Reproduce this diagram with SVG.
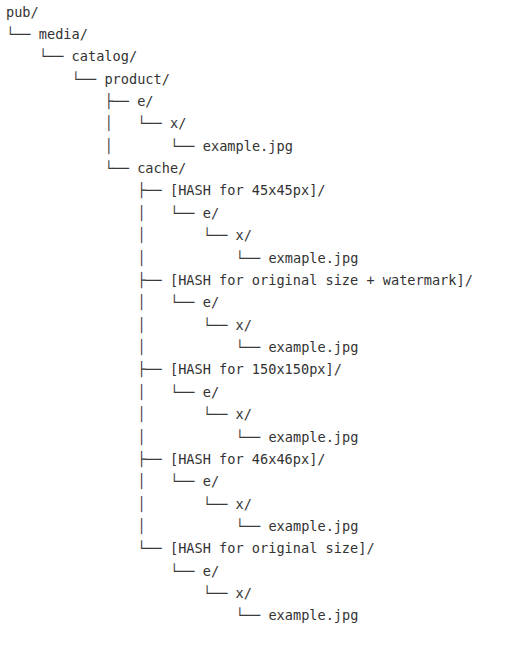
<svg xmlns="http://www.w3.org/2000/svg" width="523" height="666" viewBox="0 0 523 666">
<style>
text{font-family:"DejaVu Sans Mono","Liberation Mono",monospace;font-size:13.6px;fill:#333333}
.c{fill:#3a3a3a}
</style>
<rect width="523" height="666" fill="#ffffff"/>
<g id="connectors">
<text class="c" x="6" y="38.87">└──</text>
<text class="c" x="38.8" y="61.24">└──</text>
<text class="c" x="71.6" y="83.61">└──</text>
<text class="c" x="104.4" y="105.98">├──</text>
<text class="c" x="104.4" y="128.35">│</text><text class="c" x="137.2" y="128.35">└──</text>
<text class="c" x="104.4" y="150.72">│</text><text class="c" x="170" y="150.72">└──</text>
<text class="c" x="104.4" y="173.09">└──</text>
<text class="c" x="137.2" y="195.46">├──</text>
<text class="c" x="137.2" y="217.83">│</text><text class="c" x="170" y="217.83">└──</text>
<text class="c" x="137.2" y="240.2">│</text><text class="c" x="202.8" y="240.2">└──</text>
<text class="c" x="137.2" y="262.57">│</text><text class="c" x="235.6" y="262.57">└──</text>
<text class="c" x="137.2" y="284.94">├──</text>
<text class="c" x="137.2" y="307.31">│</text><text class="c" x="170" y="307.31">└──</text>
<text class="c" x="137.2" y="329.68">│</text><text class="c" x="202.8" y="329.68">└──</text>
<text class="c" x="137.2" y="352.05">│</text><text class="c" x="235.6" y="352.05">└──</text>
<text class="c" x="137.2" y="374.42">├──</text>
<text class="c" x="137.2" y="396.79">│</text><text class="c" x="170" y="396.79">└──</text>
<text class="c" x="137.2" y="419.16">│</text><text class="c" x="202.8" y="419.16">└──</text>
<text class="c" x="137.2" y="441.53">│</text><text class="c" x="235.6" y="441.53">└──</text>
<text class="c" x="137.2" y="463.9">├──</text>
<text class="c" x="137.2" y="486.27">│</text><text class="c" x="170" y="486.27">└──</text>
<text class="c" x="137.2" y="508.64">│</text><text class="c" x="202.8" y="508.64">└──</text>
<text class="c" x="137.2" y="531.01">│</text><text class="c" x="235.6" y="531.01">└──</text>
<text class="c" x="137.2" y="553.38">└──</text>
<text class="c" x="170" y="575.75">└──</text>
<text class="c" x="202.8" y="598.12">└──</text>
<text class="c" x="235.6" y="620.49">└──</text>
</g>
<g id="n-pub"><text x="6" y="16.5">pub/</text></g>
<g id="n-media"><text x="38.8" y="38.87">media/</text></g>
<g id="n-catalog"><text x="71.6" y="61.24">catalog/</text></g>
<g id="n-product"><text x="104.4" y="83.61">product/</text></g>
<g id="n-e"><text x="137.2" y="105.98">e/</text></g>
<g id="n-e-x"><text x="170" y="128.35">x/</text></g>
<g id="n-e-x-file"><text x="202.8" y="150.72">example.jpg</text></g>
<g id="n-cache"><text x="137.2" y="173.09">cache/</text></g>
<g id="n-h1"><text x="170" y="195.46">[HASH for 45x45px]/</text></g>
<g id="n-h1-e"><text x="202.8" y="217.83">e/</text></g>
<g id="n-h1-x"><text x="235.6" y="240.2">x/</text></g>
<g id="n-h1-file"><text x="268.4" y="262.57">exmaple.jpg</text></g>
<g id="n-h2"><text x="170" y="284.94">[HASH for original size + watermark]/</text></g>
<g id="n-h2-e"><text x="202.8" y="307.31">e/</text></g>
<g id="n-h2-x"><text x="235.6" y="329.68">x/</text></g>
<g id="n-h2-file"><text x="268.4" y="352.05">example.jpg</text></g>
<g id="n-h3"><text x="170" y="374.42">[HASH for 150x150px]/</text></g>
<g id="n-h3-e"><text x="202.8" y="396.79">e/</text></g>
<g id="n-h3-x"><text x="235.6" y="419.16">x/</text></g>
<g id="n-h3-file"><text x="268.4" y="441.53">example.jpg</text></g>
<g id="n-h4"><text x="170" y="463.9">[HASH for 46x46px]/</text></g>
<g id="n-h4-e"><text x="202.8" y="486.27">e/</text></g>
<g id="n-h4-x"><text x="235.6" y="508.64">x/</text></g>
<g id="n-h4-file"><text x="268.4" y="531.01">example.jpg</text></g>
<g id="n-h5"><text x="170" y="553.38">[HASH for original size]/</text></g>
<g id="n-h5-e"><text x="202.8" y="575.75">e/</text></g>
<g id="n-h5-x"><text x="235.6" y="598.12">x/</text></g>
<g id="n-h5-file"><text x="268.4" y="620.49">example.jpg</text></g>
</svg>
